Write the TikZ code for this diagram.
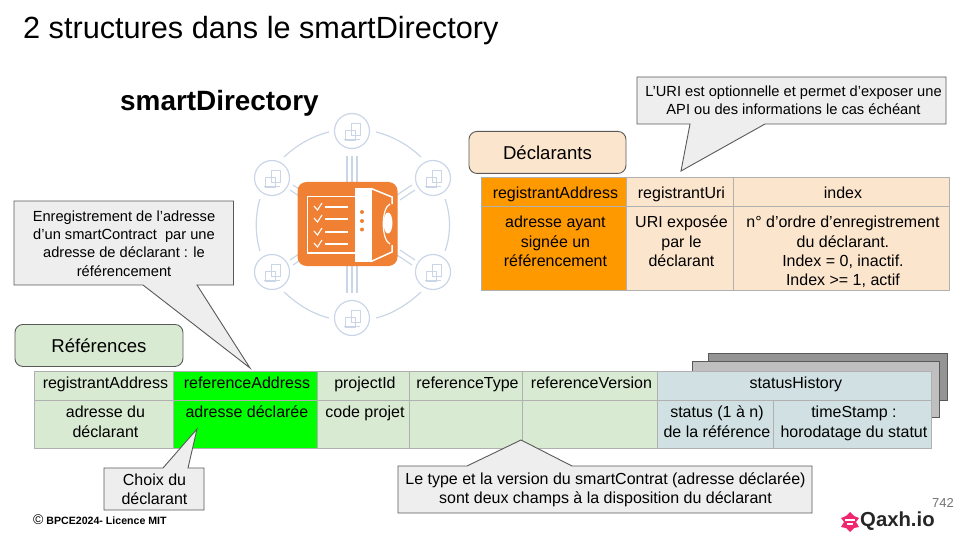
\documentclass[tikz,border=0pt]{standalone}
\usepackage{fontspec}
\setmainfont{Liberation Sans}
\usetikzlibrary{calc}
\definecolor{boxgrey}{HTML}{EEEEEE}
\definecolor{edgegrey}{HTML}{595959}
\definecolor{cellline}{HTML}{B0B0B0}
\definecolor{refgreen}{HTML}{D9EAD3}
\definecolor{decpeach}{HTML}{FCE5CD}
\definecolor{histblue}{HTML}{D0E0E3}
\definecolor{addrorange}{HTML}{FF9900}
\definecolor{iconblue}{HTML}{CBD5E8}
\definecolor{iconorange}{HTML}{F08034}
\definecolor{logopink}{HTML}{F0266F}
\tikzset{
	tablecell/.style={draw=cellline,line width=0.9pt,inner sep=0pt,anchor=north west,font=\fontsize{16}{19.2}\selectfont},
	tabletitle/.style={draw=edgegrey,line width=0.9pt,rounded corners=8pt,anchor=north west,inner sep=0pt,font=\fontsize{18.6}{22}\selectfont},
	bubble/.style={draw=edgegrey,fill=boxgrey,line width=0.9pt},
	bubbletext/.style={align=center,inner sep=0pt,font=\fontsize{14.65}{18.4}\selectfont},
	bigbubbletext/.style={align=center,inner sep=0pt,font=\fontsize{16}{19}\selectfont},
	orbit/.style={draw=iconblue,line width=1.2pt},
	stack/.style={draw=edgegrey,line width=0.9pt},
}
\newcommand{\celltop}{8pt}
% cell: name, x1, y1, x2, y2, fill, text
\newcommand{\tablebox}[7]{
	\pgfmathsetmacro{\cellw}{#4-#2}
	\pgfmathsetmacro{\cellh}{#5-#3}
	\node[tablecell,fill=#6] (#1) at (#2,#3)
		{\parbox[c][\cellh pt][t]{\cellw pt}{\centering\leftskip=3pt plus 1fil\vspace{\celltop}\strut#7}};
}
% small computer icon on the ring
\newcommand{\ringicon}[2]{
	\node[circle,orbit,minimum size=35pt,inner sep=0pt] (#1) at (#2) {};
	\draw[orbit,line width=0.8pt] ($(#1)+(-7,-1)$) rectangle ($(#1)+(3,9)$);
	\draw[orbit,line width=0.8pt] ($(#1)+(-1,-8)$) rectangle ($(#1)+(8,4)$);
	\draw[orbit,line width=0.8pt] ($(#1)+(-8,8)$) -- ($(#1)+(8,8)$);
}
\begin{document}
\begin{tikzpicture}[x=1pt,y=-1pt]
	\useasboundingbox (0,0) rectangle (960,540);
	% title
	\node[anchor=base west,inner sep=0pt,font=\fontsize{30.65}{34}\selectfont] (title) at (23,39) {2 structures dans le smartDirectory};
	\node[anchor=base west,inner sep=0pt,font=\bfseries\fontsize{27.9}{32}\selectfont] (dirname) at (120,110.5) {smartDirectory};
	% icon
	\ringicon{r1}{352,131}
	\ringicon{r2}{433,178}
	\ringicon{r3}{433,272}
	\ringicon{r4}{352,318}
	\ringicon{r5}{272,272}
	\ringicon{r6}{272,178}
	\draw[orbit] (284,157) .. controls (298,144) and (313,136) .. (329,132);
	\draw[orbit] (376,132) .. controls (392,136) and (407,144) .. (421,157);
	\draw[orbit] (445,199) .. controls (451,215) and (451,235) .. (445,251);
	\draw[orbit] (421,292) .. controls (407,305) and (392,314) .. (376,318);
	\draw[orbit] (329,318) .. controls (313,314) and (298,305) .. (284,292);
	\draw[orbit] (260,251) .. controls (255,235) and (255,215) .. (260,199);
	\foreach \dx in {-5,0,5} {
		\draw[orbit] ($(r1.south)+(\dx,7)$) -- ++(0,28);
		\draw[orbit] ($(r4.north)+(\dx,-7)$) -- ++(0,-28);
	}
	\foreach \ox/\oy in {18/12,21/7} {
		\draw[orbit] ($(r6)+(\ox,\oy)$) -- ++(15,10);
		\draw[orbit] ($(r2)+(-\ox,\oy)$) -- ++(-15,10);
		\draw[orbit] ($(r5)+(\ox,-\oy)$) -- ++(15,-10);
		\draw[orbit] ($(r3)+(-\ox,-\oy)$) -- ++(-15,-10);
	}
	\node[fill=iconorange,rounded corners=9pt,minimum width=100pt,minimum height=84pt,inner sep=0pt] (safe) at (347.5,224) {};
	\draw[white,line width=1.6pt] (356,196.5) -- (307.5,196.5) -- (307.5,253) -- (356,253);
	\fill[white] (355,188) -- (372,188) -- (372,262) -- (355,262) -- cycle;
	\draw[white,line width=1.5pt] (371,188.5) -- (392,197) -- (392,204);
	\draw[white,line width=1.5pt] (371,261.5) -- (392,252) -- (392,245);
	\draw[white,line width=1.2pt] (390,204) .. controls (381,208) and (381,240) .. (390,244);
	\fill[white] (388,223) ellipse (4.5 and 10.5);
	\foreach \yy in {212,221,229.5} {
		\fill[iconorange] (362,\yy) circle (2);
	}
	\foreach \yy in {206,218,231,243} {
		\draw[white,line width=1.1pt] (314,\yy) -- (317.5,\yy+4) -- (322,\yy-3);
		\draw[white,line width=1.1pt] (325,\yy+1) -- (348,\yy+1);
	}
	% declarants
	\node[tabletitle,fill=decpeach,minimum width=157pt,minimum height=42pt] (dectitle) at (468.5,131) {Déclarants};
	\tablebox{d1}{481}{177}{626}{206}{addrorange}{registrantAddress}
	\tablebox{d2}{626}{177}{733}{206}{decpeach}{registrantUri}
	\tablebox{d3}{733}{177}{949}{206}{decpeach}{index}
	\tablebox{d4}{481}{206}{626}{290}{addrorange}{adresse ayant\\signée un\\référencement}
	\tablebox{d5}{626}{206}{733}{290}{decpeach}{URI exposée\\par le\\déclarant}
	\tablebox{d6}{733}{206}{949}{290}{decpeach}{n° d’ordre d’enregistrement\\du déclarant.\\Index = 0, inactif.\\Index >= 1, actif}
	% history stack
	\node[stack,fill=black!42,anchor=north west,minimum width=239pt,minimum height=47pt,inner sep=0pt] (back2) at (708,353) {};
	\node[stack,fill=black!25,anchor=north west,minimum width=247pt,minimum height=56pt,inner sep=0pt] (back1) at (692,361) {};
	% references
	\renewcommand{\celltop}{4pt}
	\node[tabletitle,fill=refgreen,minimum width=168pt,minimum height=42pt] (reftitle) at (14.5,324) {Références};
	\tablebox{r1a}{34}{371}{173}{400}{refgreen}{registrantAddress}
	\tablebox{r2a}{173}{371}{317}{400}{green}{referenceAddress}
	\tablebox{r3a}{317}{371}{409}{400}{refgreen}{projectId}
	\tablebox{r4a}{409}{371}{522}{400}{refgreen}{referenceType}
	\tablebox{r5a}{522}{371}{657}{400}{refgreen}{referenceVersion}
	\tablebox{r6a}{657}{371}{931}{400}{histblue}{statusHistory}
	\tablebox{r1b}{34}{400}{173}{448}{refgreen}{adresse du\\déclarant}
	\tablebox{r2b}{173}{400}{317}{448}{green}{adresse déclarée}
	\tablebox{r3b}{317}{400}{409}{448}{refgreen}{code projet}
	\tablebox{r4b}{409}{400}{522}{448}{refgreen}{}
	\tablebox{r5b}{522}{400}{657}{448}{refgreen}{}
	\tablebox{r6b}{657}{400}{773}{448}{histblue}{status (1 à n)\\de la référence}
	\tablebox{r7b}{773}{400}{931}{448}{histblue}{timeStamp :\\horodatage du statut}
	% callouts
	\draw[bubble] (637,77) -- (946,77) -- (946,124) -- (765,124) -- (681,171) -- (690,124) -- (637,124) -- cycle;
	\node[bubbletext] (uritext) at (793.5,100.5) {L’URI est optionnelle et permet d’exposer une\\API ou des informations le cas échéant};
	\draw[bubble] (14,201) -- (233.5,201) -- (233.5,285) -- (197,285) -- (250,368) -- (143,285) -- (14,285) -- cycle;
	\node[bubbletext] (regtext) at (124,243.5) {Enregistrement de l’adresse\\d’un smartContract\ \ par une\\adresse de déclarant : le\\référencement};
	\draw[bubble] (104,468) -- (163,468) -- (197,429) -- (188,468) -- (204,468) -- (204,510) -- (104,510) -- cycle;
	\node[bubbletext,bigbubbletext] (choixtext) at (154.5,489.5) {Choix du\\déclarant};
	\draw[bubble] (398,466) -- (467,466) -- (521,440) -- (572,466) -- (812,466) -- (812,513) -- (398,513) -- cycle;
	\node[bubbletext,bigbubbletext] (typetext) at (605.5,489.5) {Le type et la version du smartContrat (adresse déclarée)\\sont deux champs à la disposition du déclarant};
	% footer
	\node[anchor=west,inner sep=0pt,font=\bfseries\fontsize{10.6}{12}\selectfont] (licence) at (33,520) {\raisebox{-0.5pt}{\fontsize{14}{14}\selectfont\normalfont ©} BPCE2024- Licence MIT};
	\node[anchor=east,inner sep=0pt,text=black!55,font=\fontsize{13}{15}\selectfont] (pagenum) at (954,503) {742};
	% logo
	\fill[logopink] (850,512) -- (854,516) -- (859,518) -- (856,522) -- (859,527) -- (854,528) -- (850,532) -- (846,528) -- (841,527) -- (844,522) -- (841,518) -- (846,516) -- cycle;
	\fill[white] (845,519) rectangle (855,520.5);
	\fill[white] (847,523) rectangle (853,525);
	\node[anchor=west,inner sep=0pt,text=black!85,font=\bfseries\fontsize{20.3}{24}\selectfont] (qaxh) at (860,521) {Qaxh.io};
\end{tikzpicture}
\end{document}
